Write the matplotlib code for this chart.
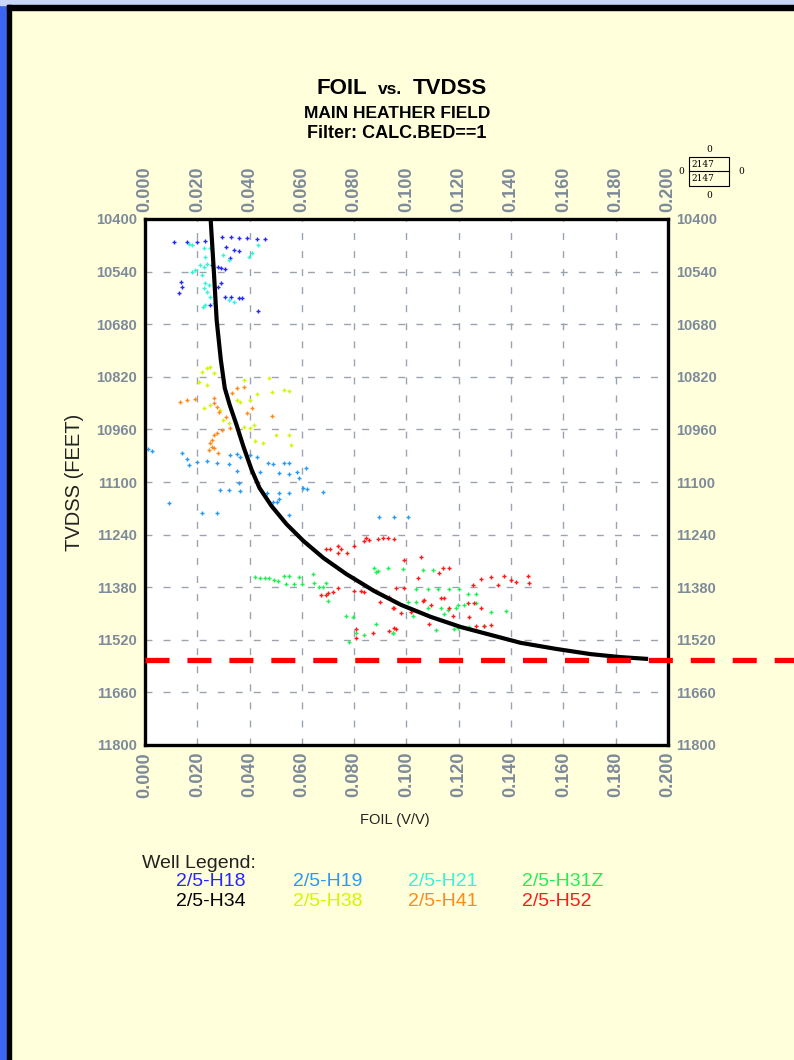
import numpy as np
import matplotlib
matplotlib.use("Agg")
import matplotlib.pyplot as plt
from matplotlib.patches import Rectangle

plt.rcParams['font.family'] = ['Liberation Sans', 'DejaVu Sans']
plt.rcParams['lines.scale_dashes'] = False

# ---- data ----
x_ticks = [0.000, 0.020, 0.040, 0.060, 0.080, 0.100, 0.120, 0.140, 0.160, 0.180, 0.200]
y_ticks = [10400, 10540, 10680, 10820, 10960, 11100, 11240, 11380, 11520, 11660, 11800]

h18_foil = [0.0112, 0.016, 0.0198, 0.023, 0.0293, 0.033, 0.036, 0.039, 0.0427, 0.0457,
            0.031, 0.034, 0.036, 0.0324, 0.028, 0.029, 0.0305, 0.0255, 0.0137, 0.014,
            0.013, 0.028, 0.029, 0.0305, 0.033, 0.0358, 0.037, 0.0248, 0.0434]
h18_tvd = [10460, 10460, 10461, 10459, 10448, 10448, 10451, 10451, 10453, 10453,
           10475, 10483, 10485, 10504, 10528, 10530, 10533, 10522, 10568, 10581,
           10597, 10581, 10570, 10608, 10608, 10610, 10610, 10629, 10645]

h19_foil = [0.0027, 0.014, 0.016, 0.0168, 0.0198, 0.0236, 0.0274, 0.032, 0.0324, 0.035,
            0.0362, 0.040, 0.0427, 0.035, 0.0472, 0.0491, 0.053, 0.0549, 0.0438, 0.0514,
            0.0549, 0.058, 0.059, 0.0617, 0.0358, 0.0286, 0.032, 0.0362, 0.0465, 0.0514,
            0.055, 0.0606, 0.062, 0.068, 0.0503, 0.0514, 0.009, 0.0217, 0.0274, 0.0549,
            0.049, 0.0895, 0.0952, 0.1006, 0.001]
h19_tvd = [11017, 11023, 11039, 11055, 11047, 11044, 11049, 11052, 11028, 11025,
           11033, 11028, 11033, 11071, 11049, 11052, 11049, 11049, 11073, 11076,
           11079, 11073, 11089, 11063, 11103, 11121, 11121, 11124, 11129, 11129,
           11129, 11116, 11119, 11127, 11153, 11145, 11156, 11182, 11182, 11188,
           11153, 11193, 11193, 11193, 11013]

h21_foil = [0.0168, 0.018, 0.0225, 0.0408, 0.0434, 0.0396, 0.019, 0.021, 0.0225, 0.0236,
            0.018, 0.0217, 0.023, 0.0225, 0.0244, 0.0236, 0.0248, 0.023, 0.0221, 0.0263,
            0.032, 0.034, 0.032, 0.030, 0.023, 0.0248]
h21_tvd = [10467, 10469, 10477, 10490, 10469, 10501, 10536, 10522, 10528, 10520,
           10541, 10549, 10570, 10584, 10576, 10594, 10608, 10629, 10634, 10624,
           10616, 10621, 10509, 10496, 10501, 10477]

h31z_foil = [0.042, 0.0438, 0.0457, 0.0476, 0.0495, 0.051, 0.0533, 0.0552, 0.0587, 0.054,
             0.0571, 0.0602, 0.0644, 0.0648, 0.0667, 0.068, 0.070, 0.0693, 0.077, 0.0796,
             0.0876, 0.0891, 0.093, 0.0808, 0.0838, 0.0884, 0.0949, 0.078,
             0.0987, 0.1063, 0.110, 0.1036, 0.1082, 0.112, 0.1162, 0.120, 0.1234, 0.1265,
             0.1036, 0.1082, 0.1131, 0.1158, 0.1189, 0.1196, 0.122, 0.1265, 0.1322, 0.1379,
             0.1143, 0.1112, 0.118, 0.1196, 0.1238, 0.1295, 0.1025, 0.0949, 0.1006, 0.0884]
h31z_tvd = [11353, 11356, 11356, 11356, 11361, 11364, 11350, 11350, 11353, 11372,
            11372, 11372, 11345, 11369, 11380, 11380, 11417, 11369, 11457, 11459,
            11329, 11337, 11329, 11502, 11507, 11478, 11502, 11526,
            11332, 11334, 11334, 11385, 11385, 11385, 11385, 11385, 11398, 11398,
            11419, 11435, 11435, 11441, 11435, 11427, 11427, 11422, 11446, 11443,
            11451, 11494, 11491, 11489, 11486, 11483, 11457, 11502, 11419, 11340]

h34_foil = []
h34_tvd = []

h38_foil = [0.0236, 0.0248, 0.0217, 0.0263, 0.0206, 0.0236, 0.038, 0.0476, 0.053, 0.0549,
            0.0484, 0.0427, 0.040, 0.0362, 0.0248, 0.0225, 0.0286, 0.030, 0.032, 0.0377,
            0.040, 0.0415, 0.050, 0.055, 0.0453, 0.056, 0.042, 0.035]
h38_tvd = [10797, 10794, 10807, 10810, 10834, 10842, 10829, 10823, 10855, 10858,
           10860, 10866, 10882, 10887, 10895, 10903, 10908, 10935, 10943, 10954,
           10956, 10948, 10975, 10975, 10996, 11001, 10991, 10882]

h41_foil = [0.0133, 0.016, 0.019, 0.0263, 0.0274, 0.0263, 0.0331, 0.035, 0.0377, 0.0282,
            0.031, 0.0389, 0.0408, 0.0324, 0.0293, 0.0274, 0.0263, 0.0255, 0.0248, 0.0255,
            0.0484, 0.0263, 0.028, 0.0244]
h41_tvd = [10887, 10882, 10879, 10890, 10900, 10876, 10863, 10850, 10847, 10914,
           10927, 10916, 10903, 10956, 10962, 10970, 10975, 10988, 10996, 11007,
           10924, 11009, 11023, 11015]

h52_foil = [0.0693, 0.0709, 0.0739, 0.075, 0.0773, 0.0739, 0.080, 0.0838, 0.0857, 0.0891,
            0.091, 0.093, 0.0952, 0.0674, 0.0693, 0.070, 0.072, 0.0739, 0.080, 0.0827,
            0.0838, 0.0872, 0.0884, 0.090, 0.0933, 0.0952, 0.0933, 0.096, 0.0808, 0.0808,
            0.0872, 0.0846,
            0.099, 0.1044, 0.1124, 0.1162, 0.114, 0.1284, 0.1322, 0.1349, 0.1371, 0.1398,
            0.1417, 0.1463, 0.1467, 0.1253, 0.099, 0.096, 0.1067, 0.1131, 0.1143, 0.1162,
            0.1177, 0.1234, 0.1257, 0.1238, 0.1284, 0.1265, 0.1295, 0.1322, 0.1086, 0.0949,
            0.1017, 0.0979, 0.0952, 0.1093, 0.1063, 0.1055]
h52_tvd = [11278, 11278, 11270, 11278, 11289, 11289, 11270, 11257, 11254, 11252,
           11249, 11249, 11252, 11401, 11401, 11395, 11393, 11382, 11390, 11390,
           11393, 11388, 11390, 11419, 11406, 11435, 11497, 11491, 11491, 11515,
           11502, 11249,
           11307, 11356, 11342, 11329, 11329, 11358, 11353, 11374, 11350, 11361,
           11366, 11350, 11369, 11374, 11382, 11382, 11414, 11409, 11409, 11435,
           11457, 11422, 11422, 11459, 11435, 11483, 11483, 11481, 11478, 11435,
           11446, 11449, 11489, 11427, 11417, 11300]

curve_foil = [0.0251, 0.0263, 0.0274, 0.029, 0.0305, 0.0324, 0.035, 0.0377, 0.0408, 0.0438,
              0.0484, 0.0541, 0.0606, 0.0682, 0.077, 0.0876, 0.0979, 0.1093, 0.1208, 0.1322,
              0.1436, 0.157, 0.1703, 0.1817, 0.1924]
curve_tvd = [10400, 10536, 10669, 10775, 10850, 10895, 10948, 11007, 11068, 11116,
             11164, 11212, 11257, 11302, 11345, 11390, 11427, 11459, 11486, 11507,
             11528, 11544, 11558, 11566, 11571]

contact_tvd = 11574

wells = ['2/5-H18', '2/5-H19', '2/5-H21', '2/5-H31Z', '2/5-H34', '2/5-H38', '2/5-H41', '2/5-H52']
well_colors = ['#2626ff', '#2a99f5', '#33f5d5', '#22ee55', '#000000', '#d4f500', '#ff8a1a', '#ff1a1a']
well_data = [(h18_foil, h18_tvd), (h19_foil, h19_tvd), (h21_foil, h21_tvd), (h31z_foil, h31z_tvd),
             (h34_foil, h34_tvd), (h38_foil, h38_tvd), (h41_foil, h41_tvd), (h52_foil, h52_tvd)]

# ---- figure ----
bg = '#ffffdc'
tick_col = '#7d8a9a'
fig = plt.figure(figsize=(7.94, 10.60), dpi=100, facecolor=bg)

# window frame: blue strip on the left and top, black border
fig.patches.append(Rectangle((0, 0), 7 / 794, 1, transform=fig.transFigure, color='#3b66f0', zorder=0))
fig.patches.append(Rectangle((0, 1 - 5 / 1060), 1, 5 / 1060, transform=fig.transFigure, color='#c8d6f8', zorder=0))
fig.patches.append(Rectangle((7 / 794, 0), 4 / 794, 1 - 5 / 1060, transform=fig.transFigure, color='black', zorder=1))
fig.patches.append(Rectangle((7 / 794, 1 - 10 / 1060), 1, 5 / 1060, transform=fig.transFigure, color='black', zorder=1))

ax = fig.add_axes([145 / 794, 1 - 745 / 1060, 523 / 794, 526 / 1060])
ax.set_facecolor('white')
ax.set_xlim(0, 0.2)
ax.set_ylim(11800, 10400)

for (f, t), c in zip(well_data, well_colors):
    if len(f):
        ax.plot(f, t, linestyle='none', marker='+', markersize=3.5, mew=1.0, color=c, zorder=3)

ax.plot(curve_foil, curve_tvd, color='black', lw=3.0, zorder=4, solid_capstyle='butt',
        solid_joinstyle='round')
ax.plot([0, 0.2 + (794 - 668) / 2615], [contact_tvd, contact_tvd], color='#ff0000', lw=3.8,
        dashes=(17.3, 12.9), clip_on=False, zorder=6)

ax.set_xticks(x_ticks)
ax.set_yticks(y_ticks)
ax.set_xticklabels(['%.3f' % v for v in x_ticks], rotation=90)
ax.set_yticklabels([str(v) for v in y_ticks])
ax.tick_params(axis='both', length=0, labelcolor=tick_col)
ax.tick_params(axis='x', top=True, labeltop=True, bottom=True, labelbottom=True, pad=5, labelsize=13)
ax.tick_params(axis='y', left=True, labelleft=True, right=True, labelright=True, pad=6, labelsize=10.5)
for lab in ax.get_xticklabels() + ax.get_yticklabels():
    lab.set_fontweight('bold')
ax.grid(True, color='#9aa4b0', lw=1.0, dashes=(5, 8))
for s in ax.spines.values():
    s.set_linewidth(2.4)
    s.set_color('black')
    s.set_zorder(5)

fig.text(395 / 794, 1 - 820 / 1060, 'FOIL (V/V)', fontsize=10.5, color='#222222', ha='center', va='center')
fig.text(75 / 794, 1 - 482 / 1060, 'TVDSS (FEET)', fontsize=14.5, color='#222222', ha='center',
         va='center', rotation=90)

# titles
fig.text(367 / 794, 1 - 89 / 1060, 'FOIL', fontsize=16, fontweight='bold', ha='right', va='center')
fig.text(390 / 794, 1 - 90 / 1060, 'vs.', fontsize=12.5, fontweight='bold', ha='center', va='center')
fig.text(413 / 794, 1 - 89 / 1060, 'TVDSS', fontsize=16, fontweight='bold', ha='left', va='center')
fig.text(397 / 794, 1 - 114 / 1060, 'MAIN HEATHER FIELD', fontsize=12.5, fontweight='bold', ha='center', va='center')
fig.text(397 / 794, 1 - 134 / 1060, 'Filter: CALC.BED==1', fontsize=13, fontweight='bold', ha='center', va='center')

# small count box top right
bx, by, bw, bh = 689 / 794, 1 - 186 / 1060, 40 / 794, 29 / 1060
fig.patches.append(Rectangle((bx, by), bw, bh, transform=fig.transFigure, fill=False, ec='black', lw=0.8))
fig.add_artist(plt.Line2D([bx, bx + bw], [by + bh / 2, by + bh / 2], transform=fig.transFigure, color='black', lw=0.8))
sfont = dict(fontsize=6.5, family='DejaVu Serif', va='center')
fig.text(bx + 2 / 794, by + bh * 0.75, '2147', ha='left', **sfont)
fig.text(bx + 2 / 794, by + bh * 0.25, '2147', ha='left', **sfont)
fig.text(bx + bw / 2, by + bh + 7 / 1060, '0', ha='center', **sfont)
fig.text(bx + bw / 2, by - 9 / 1060, '0', ha='center', **sfont)
fig.text(681 / 794, by + bh / 2, '0', ha='center', **sfont)
fig.text(741 / 794, by + bh / 2, '0', ha='center', **sfont)

# well legend
fig.text(142 / 794, 1 - 863 / 1060, 'Well Legend:', fontsize=14, color='#222222', ha='left', va='center')
col_x = [176, 293, 408, 522]
row_y = [882, 901]
for i, (w, c) in enumerate(zip(wells, well_colors)):
    fig.text(col_x[i % 4] / 794, 1 - row_y[i // 4] / 1060, w, fontsize=14, color=c, ha='left', va='center')

fig.savefig('out.png', dpi=100, facecolor=bg)
